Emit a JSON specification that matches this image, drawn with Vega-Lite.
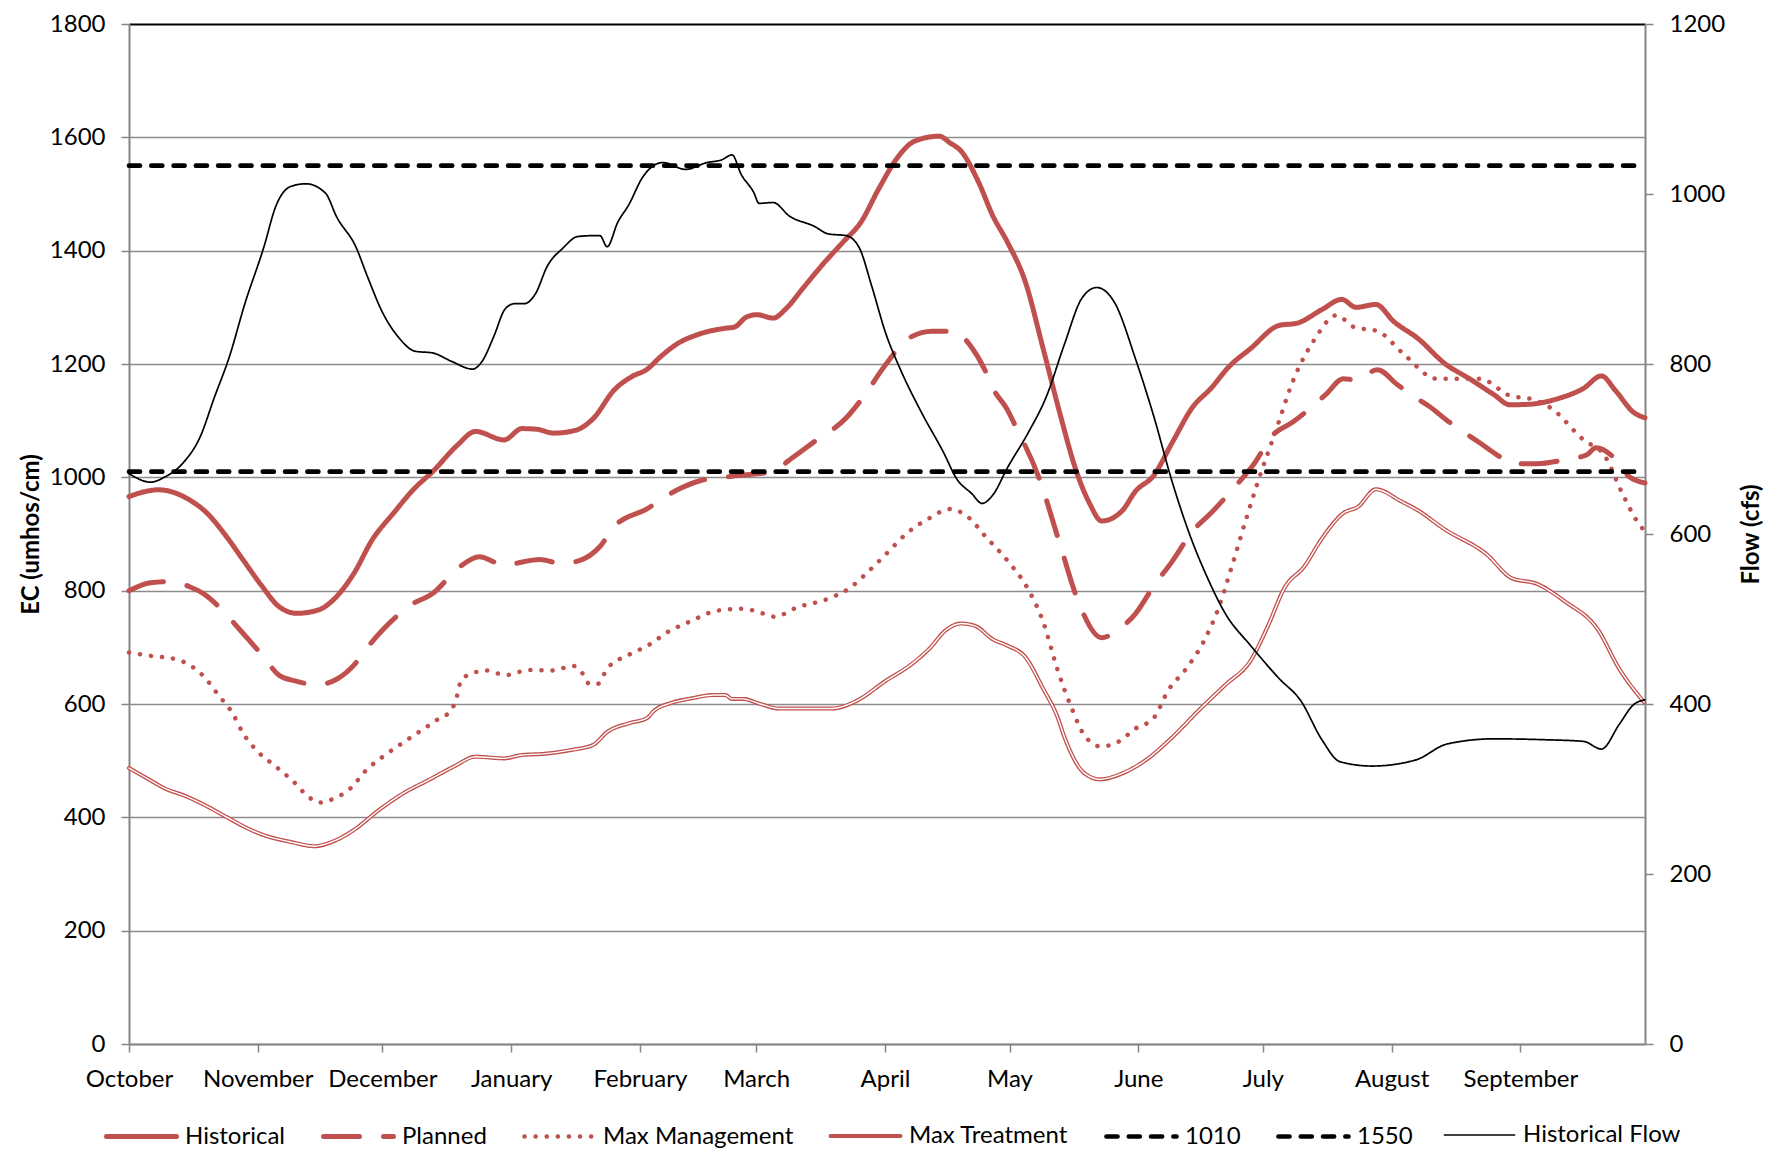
{
  "$schema": "https://vega.github.io/schema/vega-lite/v6.json",
  "width": 1516,
  "height": 1020,
  "autosize": {"type": "none"},
  "padding": {"left": 129, "top": 24, "right": 131, "bottom": 116},
  "background": "white",
  "config": {
    "view": {"stroke": null},
    "font": "Lato",
    "axis": {
      "labelFont": "Lato", "labelFontSize": 24, "labelColor": "#000000",
      "titleFont": "Lato", "titleFontSize": 24, "titleFontWeight": "bold", "titleColor": "#000000",
      "domainColor": "#868686", "domainWidth": 2,
      "tickColor": "#868686", "tickWidth": 1.5, "tickSize": 8
    },
    "legend": {
      "labelFont": "Lato", "labelFontSize": 24, "labelColor": "#000000", "labelLimit": 400
    }
  },
  "datasets": {
    "ec": [
      {"series":"Max Treatment","day":0,"value":487},{"series":"Max Treatment","day":4.3,"value":469},{"series":"Max Treatment","day":8.6,"value":451},{"series":"Max Treatment","day":13.8,"value":437},{"series":"Max Treatment","day":18.9,"value":419},{"series":"Max Treatment","day":24.1,"value":398},{"series":"Max Treatment","day":28.4,"value":381},{"series":"Max Treatment","day":33.5,"value":366},{"series":"Max Treatment","day":38.7,"value":357},{"series":"Max Treatment","day":44.7,"value":349},{"series":"Max Treatment","day":49,"value":357},{"series":"Max Treatment","day":54.2,"value":378},{"series":"Max Treatment","day":60.2,"value":413},{"series":"Max Treatment","day":66.2,"value":443},{"series":"Max Treatment","day":72.2,"value":466},{"series":"Max Treatment","day":78.3,"value":490},{"series":"Max Treatment","day":83.4,"value":507},{"series":"Max Treatment","day":90.3,"value":504},{"series":"Max Treatment","day":94.6,"value":510},{"series":"Max Treatment","day":99.8,"value":512},{"series":"Max Treatment","day":106.6,"value":519},{"series":"Max Treatment","day":111.8,"value":528},{"series":"Max Treatment","day":115.2,"value":551},{"series":"Max Treatment","day":120.4,"value":566},{"series":"Max Treatment","day":124.7,"value":575},{"series":"Max Treatment","day":126.4,"value":588},{"series":"Max Treatment","day":130.6,"value":602},{"series":"Max Treatment","day":135.5,"value":610},{"series":"Max Treatment","day":140.9,"value":616},{"series":"Max Treatment","day":143.5,"value":616},{"series":"Max Treatment","day":145.2,"value":609},{"series":"Max Treatment","day":147.8,"value":609},{"series":"Max Treatment","day":152,"value":600},{"series":"Max Treatment","day":156.4,"value":592},{"series":"Max Treatment","day":169.3,"value":592},{"series":"Max Treatment","day":175.3,"value":606},{"series":"Max Treatment","day":182.2,"value":641},{"series":"Max Treatment","day":188.2,"value":669},{"series":"Max Treatment","day":192.5,"value":696},{"series":"Max Treatment","day":196.8,"value":731},{"series":"Max Treatment","day":200.3,"value":742},{"series":"Max Treatment","day":203.7,"value":738},{"series":"Max Treatment","day":208,"value":714},{"series":"Max Treatment","day":211.5,"value":703},{"series":"Max Treatment","day":215.8,"value":683},{"series":"Max Treatment","day":220.1,"value":627},{"series":"Max Treatment","day":223.5,"value":578},{"series":"Max Treatment","day":225.3,"value":540},{"series":"Max Treatment","day":230,"value":478},{"series":"Max Treatment","day":233.8,"value":467},{"series":"Max Treatment","day":239,"value":477},{"series":"Max Treatment","day":245,"value":502},{"series":"Max Treatment","day":251,"value":540},{"series":"Max Treatment","day":258,"value":592},{"series":"Max Treatment","day":264,"value":634},{"series":"Max Treatment","day":270,"value":676},{"series":"Max Treatment","day":274.3,"value":739},{"series":"Max Treatment","day":278.2,"value":805},{"series":"Max Treatment","day":283,"value":843},{"series":"Max Treatment","day":287.2,"value":892},{"series":"Max Treatment","day":292.4,"value":937},{"series":"Max Treatment","day":295.9,"value":948},{"series":"Max Treatment","day":300.2,"value":979},{"series":"Max Treatment","day":306.2,"value":958},{"series":"Max Treatment","day":310.5,"value":941},{"series":"Max Treatment","day":316.6,"value":909},{"series":"Max Treatment","day":326.9,"value":864},{"series":"Max Treatment","day":332.9,"value":822},{"series":"Max Treatment","day":339,"value":812},{"series":"Max Treatment","day":345.9,"value":780},{"series":"Max Treatment","day":353.6,"value":732},{"series":"Max Treatment","day":358.8,"value":662},{"series":"Max Treatment","day":364.8,"value":603},
      {"series":"Max Management","day":0,"value":691},{"series":"Max Management","day":5.2,"value":685},{"series":"Max Management","day":11.2,"value":679},{"series":"Max Management","day":13.8,"value":672},{"series":"Max Management","day":18.1,"value":648},{"series":"Max Management","day":21.5,"value":616},{"series":"Max Management","day":24.9,"value":584},{"series":"Max Management","day":27.5,"value":548},{"series":"Max Management","day":31,"value":516},{"series":"Max Management","day":35.3,"value":490},{"series":"Max Management","day":39.6,"value":463},{"series":"Max Management","day":43.4,"value":435},{"series":"Max Management","day":46,"value":426},{"series":"Max Management","day":48.6,"value":431},{"series":"Max Management","day":53.3,"value":451},{"series":"Max Management","day":57.2,"value":484},{"series":"Max Management","day":61.1,"value":507},{"series":"Max Management","day":65.8,"value":531},{"series":"Max Management","day":70.5,"value":554},{"series":"Max Management","day":74.8,"value":575},{"series":"Max Management","day":77.4,"value":587},{"series":"Max Management","day":78.7,"value":607},{"series":"Max Management","day":80,"value":642},{"series":"Max Management","day":82.6,"value":654},{"series":"Max Management","day":86,"value":659},{"series":"Max Management","day":90.7,"value":651},{"series":"Max Management","day":96.3,"value":660},{"series":"Max Management","day":101.5,"value":659},{"series":"Max Management","day":107.1,"value":667},{"series":"Max Management","day":109.2,"value":654},{"series":"Max Management","day":110.9,"value":635},{"series":"Max Management","day":112.7,"value":635},{"series":"Max Management","day":115.2,"value":663},{"series":"Max Management","day":120.4,"value":687},{"series":"Max Management","day":125.1,"value":704},{"series":"Max Management","day":129.9,"value":728},{"series":"Max Management","day":134.9,"value":745},{"series":"Max Management","day":141.8,"value":765},{"series":"Max Management","day":147.8,"value":768},{"series":"Max Management","day":153,"value":759},{"series":"Max Management","day":155.5,"value":754},{"series":"Max Management","day":160.7,"value":770},{"series":"Max Management","day":168.4,"value":786},{"series":"Max Management","day":173.6,"value":805},{"series":"Max Management","day":177.9,"value":833},{"series":"Max Management","day":182.2,"value":864},{"series":"Max Management","day":187.4,"value":902},{"series":"Max Management","day":192.5,"value":927},{"series":"Max Management","day":197.7,"value":944},{"series":"Max Management","day":202,"value":930},{"series":"Max Management","day":206.3,"value":895},{"series":"Max Management","day":211.5,"value":853},{"series":"Max Management","day":216.6,"value":801},{"series":"Max Management","day":220.1,"value":745},{"series":"Max Management","day":223.5,"value":662},{"series":"Max Management","day":227,"value":592},{"series":"Max Management","day":230,"value":545},{"series":"Max Management","day":234,"value":525},{"series":"Max Management","day":238.1,"value":533},{"series":"Max Management","day":242.4,"value":557},{"series":"Max Management","day":246.7,"value":575},{"series":"Max Management","day":250.2,"value":624},{"series":"Max Management","day":254.5,"value":662},{"series":"Max Management","day":258.8,"value":711},{"series":"Max Management","day":262.2,"value":767},{"series":"Max Management","day":265.7,"value":847},{"series":"Max Management","day":268.7,"value":920},{"series":"Max Management","day":271.7,"value":990},{"series":"Max Management","day":276,"value":1080},{"series":"Max Management","day":280.3,"value":1171},{"series":"Max Management","day":285.5,"value":1244},{"series":"Max Management","day":290.7,"value":1286},{"series":"Max Management","day":295,"value":1265},{"series":"Max Management","day":300.6,"value":1258},{"series":"Max Management","day":307.1,"value":1216},{"series":"Max Management","day":314.8,"value":1174},{"series":"Max Management","day":325.2,"value":1174},{"series":"Max Management","day":332.9,"value":1143},{"series":"Max Management","day":337.2,"value":1139},{"series":"Max Management","day":342.4,"value":1122},{"series":"Max Management","day":350.2,"value":1066},{"series":"Max Management","day":355.3,"value":1038},{"series":"Max Management","day":359.7,"value":969},{"series":"Max Management","day":364,"value":913},{"series":"Max Management","day":365,"value":905},
      {"series":"Planned","day":0,"value":800},{"series":"Planned","day":5.2,"value":814},{"series":"Planned","day":9.5,"value":816},{"series":"Planned","day":14.6,"value":807},{"series":"Planned","day":18.1,"value":794},{"series":"Planned","day":22.4,"value":766},{"series":"Planned","day":26.7,"value":731},{"series":"Planned","day":32.3,"value":684},{"series":"Planned","day":36.1,"value":651},{"series":"Planned","day":40.4,"value":640},{"series":"Planned","day":45.2,"value":634},{"series":"Planned","day":50.3,"value":645},{"series":"Planned","day":54.2,"value":669},{"series":"Planned","day":57.2,"value":698},{"series":"Planned","day":61.1,"value":731},{"series":"Planned","day":67.9,"value":775},{"series":"Planned","day":73.1,"value":795},{"series":"Planned","day":79.6,"value":842},{"series":"Planned","day":84.3,"value":860},{"series":"Planned","day":90.7,"value":844},{"series":"Planned","day":93.7,"value":849},{"series":"Planned","day":98.9,"value":855},{"series":"Planned","day":104.1,"value":848},{"series":"Planned","day":108.4,"value":853},{"series":"Planned","day":113.4,"value":878},{"series":"Planned","day":116.8,"value":913},{"series":"Planned","day":124.6,"value":944},{"series":"Planned","day":132.3,"value":979},{"series":"Planned","day":137.5,"value":994},{"series":"Planned","day":145.2,"value":1002},{"series":"Planned","day":154.7,"value":1010},{"series":"Planned","day":159.8,"value":1035},{"series":"Planned","day":165,"value":1063},{"series":"Planned","day":172.7,"value":1105},{"series":"Planned","day":176.2,"value":1136},{"series":"Planned","day":182.2,"value":1199},{"series":"Planned","day":187.4,"value":1244},{"series":"Planned","day":193.4,"value":1258},{"series":"Planned","day":198.5,"value":1258},{"series":"Planned","day":202.8,"value":1230},{"series":"Planned","day":205.9,"value":1192},{"series":"Planned","day":208,"value":1157},{"series":"Planned","day":211.5,"value":1119},{"series":"Planned","day":213.2,"value":1094},{"series":"Planned","day":219.2,"value":997},{"series":"Planned","day":224.3,"value":878},{"series":"Planned","day":228.6,"value":780},{"series":"Planned","day":234.2,"value":717},{"series":"Planned","day":238.1,"value":731},{"series":"Planned","day":242.4,"value":760},{"series":"Planned","day":246.7,"value":808},{"series":"Planned","day":251,"value":850},{"series":"Planned","day":256.2,"value":906},{"series":"Planned","day":260.5,"value":937},{"series":"Planned","day":266.6,"value":986},{"series":"Planned","day":270.9,"value":1024},{"series":"Planned","day":275.2,"value":1073},{"series":"Planned","day":280.3,"value":1098},{"series":"Planned","day":288.1,"value":1146},{"series":"Planned","day":292.4,"value":1174},{"series":"Planned","day":295.4,"value":1172},{"series":"Planned","day":300.6,"value":1190},{"series":"Planned","day":305.3,"value":1164},{"series":"Planned","day":309.7,"value":1141},{"series":"Planned","day":313.1,"value":1125},{"series":"Planned","day":317.4,"value":1100},{"series":"Planned","day":325.2,"value":1061},{"series":"Planned","day":329.9,"value":1037},{"series":"Planned","day":332.9,"value":1024},{"series":"Planned","day":339,"value":1024},{"series":"Planned","day":345,"value":1030},{"series":"Planned","day":351,"value":1040},{"series":"Planned","day":353.2,"value":1052},{"series":"Planned","day":357.5,"value":1035},{"series":"Planned","day":361.4,"value":1000},{"series":"Planned","day":365,"value":990},
      {"series":"Historical","day":0,"value":966},{"series":"Historical","day":4,"value":975},{"series":"Historical","day":7,"value":978},{"series":"Historical","day":10,"value":975},{"series":"Historical","day":14.6,"value":960},{"series":"Historical","day":18.9,"value":936},{"series":"Historical","day":23.2,"value":898},{"series":"Historical","day":27.5,"value":854},{"series":"Historical","day":31.8,"value":810},{"series":"Historical","day":36.1,"value":772},{"series":"Historical","day":40.4,"value":760},{"series":"Historical","day":45.6,"value":766},{"series":"Historical","day":49.9,"value":789},{"series":"Historical","day":54.2,"value":831},{"series":"Historical","day":58.5,"value":889},{"series":"Historical","day":63.6,"value":936},{"series":"Historical","day":68.8,"value":981},{"series":"Historical","day":73.1,"value":1010},{"series":"Historical","day":79.1,"value":1057},{"series":"Historical","day":83.4,"value":1081},{"series":"Historical","day":90.3,"value":1066},{"series":"Historical","day":94.6,"value":1086},{"series":"Historical","day":98,"value":1085},{"series":"Historical","day":102.3,"value":1078},{"series":"Historical","day":107.5,"value":1083},{"series":"Historical","day":111.8,"value":1104},{"series":"Historical","day":116.8,"value":1154},{"series":"Historical","day":121.1,"value":1178},{"series":"Historical","day":124.6,"value":1190},{"series":"Historical","day":128,"value":1213},{"series":"Historical","day":132.3,"value":1237},{"series":"Historical","day":136.6,"value":1251},{"series":"Historical","day":143.5,"value":1263},{"series":"Historical","day":145.7,"value":1265},{"series":"Historical","day":148.7,"value":1283},{"series":"Historical","day":151.2,"value":1287},{"series":"Historical","day":155.1,"value":1281},{"series":"Historical","day":158.1,"value":1297},{"series":"Historical","day":162.4,"value":1335},{"series":"Historical","day":166.7,"value":1373},{"series":"Historical","day":171.9,"value":1415},{"series":"Historical","day":176.2,"value":1450},{"series":"Historical","day":180.5,"value":1509},{"series":"Historical","day":184.8,"value":1562},{"series":"Historical","day":189.1,"value":1593},{"series":"Historical","day":195.1,"value":1602},{"series":"Historical","day":197.7,"value":1590},{"series":"Historical","day":200.3,"value":1576},{"series":"Historical","day":204.6,"value":1520},{"series":"Historical","day":208,"value":1461},{"series":"Historical","day":211.5,"value":1415},{"series":"Historical","day":215.8,"value":1345},{"series":"Historical","day":220.1,"value":1227},{"series":"Historical","day":224.3,"value":1108},{"series":"Historical","day":227.8,"value":1017},{"series":"Historical","day":231.2,"value":955},{"series":"Historical","day":234.2,"value":923},{"series":"Historical","day":239,"value":940},{"series":"Historical","day":242.4,"value":976},{"series":"Historical","day":246.7,"value":1003},{"series":"Historical","day":251,"value":1059},{"series":"Historical","day":256.2,"value":1125},{"series":"Historical","day":260.5,"value":1157},{"series":"Historical","day":264.8,"value":1195},{"series":"Historical","day":270,"value":1227},{"series":"Historical","day":276.9,"value":1268},{"series":"Historical","day":281.2,"value":1272},{"series":"Historical","day":287.2,"value":1296},{"series":"Historical","day":292,"value":1314},{"series":"Historical","day":295.4,"value":1300},{"series":"Historical","day":300.2,"value":1305},{"series":"Historical","day":304.5,"value":1275},{"series":"Historical","day":310.5,"value":1244},{"series":"Historical","day":316.6,"value":1202},{"series":"Historical","day":323.4,"value":1171},{"series":"Historical","day":328.6,"value":1146},{"series":"Historical","day":332.5,"value":1128},{"series":"Historical","day":337.2,"value":1129},{"series":"Historical","day":344.1,"value":1139},{"series":"Historical","day":350.2,"value":1157},{"series":"Historical","day":354.5,"value":1179},{"series":"Historical","day":357.9,"value":1153},{"series":"Historical","day":362.2,"value":1115},{"series":"Historical","day":365,"value":1105},
      {"series":"1010","day":0,"value":1010},{"series":"1010","day":365,"value":1010},
      {"series":"1550","day":0,"value":1550},{"series":"1550","day":365,"value":1550}
    ],
    "flow": [
      {"series":"Historical Flow","day":0,"flow":671},{"series":"Historical Flow","day":5.2,"flow":661},{"series":"Historical Flow","day":8.6,"flow":667},{"series":"Historical Flow","day":12.9,"flow":683},{"series":"Historical Flow","day":17.2,"flow":715},{"series":"Historical Flow","day":20.5,"flow":760},{"series":"Historical Flow","day":24.2,"flow":809},{"series":"Historical Flow","day":27.9,"flow":871},{"series":"Historical Flow","day":32.5,"flow":938},{"series":"Historical Flow","day":35.3,"flow":985},{"series":"Historical Flow","day":39,"flow":1009},{"series":"Historical Flow","day":42.6,"flow":1012},{"series":"Historical Flow","day":47.3,"flow":1001},{"series":"Historical Flow","day":50,"flow":973},{"series":"Historical Flow","day":54.6,"flow":938},{"series":"Historical Flow","day":57.4,"flow":903},{"series":"Historical Flow","day":61.1,"flow":860},{"series":"Historical Flow","day":64.8,"flow":832},{"series":"Historical Flow","day":68.9,"flow":815},{"series":"Historical Flow","day":73.1,"flow":813},{"series":"Historical Flow","day":77.7,"flow":803},{"series":"Historical Flow","day":82.7,"flow":794},{"series":"Historical Flow","day":85,"flow":803},{"series":"Historical Flow","day":87.8,"flow":832},{"series":"Historical Flow","day":90.6,"flow":865},{"series":"Historical Flow","day":92.9,"flow":871},{"series":"Historical Flow","day":95.2,"flow":871},{"series":"Historical Flow","day":97.9,"flow":883},{"series":"Historical Flow","day":100.7,"flow":915},{"series":"Historical Flow","day":104.4,"flow":936},{"series":"Historical Flow","day":108.1,"flow":950},{"series":"Historical Flow","day":111.8,"flow":951},{"series":"Historical Flow","day":113.4,"flow":951},{"series":"Historical Flow","day":115.1,"flow":938},{"series":"Historical Flow","day":117.7,"flow":967},{"series":"Historical Flow","day":120.3,"flow":987},{"series":"Historical Flow","day":123.7,"flow":1020},{"series":"Historical Flow","day":128.5,"flow":1037},{"series":"Historical Flow","day":134,"flow":1029},{"series":"Historical Flow","day":139.2,"flow":1037},{"series":"Historical Flow","day":142.6,"flow":1040},{"series":"Historical Flow","day":145.2,"flow":1046},{"series":"Historical Flow","day":147.4,"flow":1023},{"series":"Historical Flow","day":150.4,"flow":1002},{"series":"Historical Flow","day":151.7,"flow":989},{"series":"Historical Flow","day":155.1,"flow":990},{"series":"Historical Flow","day":159,"flow":974},{"series":"Historical Flow","day":165,"flow":962},{"series":"Historical Flow","day":168.4,"flow":953},{"series":"Historical Flow","day":172.7,"flow":951},{"series":"Historical Flow","day":175.8,"flow":937},{"series":"Historical Flow","day":178.8,"flow":892},{"series":"Historical Flow","day":182.2,"flow":836},{"series":"Historical Flow","day":185.6,"flow":795},{"series":"Historical Flow","day":190.8,"flow":743},{"series":"Historical Flow","day":196,"flow":697},{"series":"Historical Flow","day":199.4,"flow":664},{"series":"Historical Flow","day":202.8,"flow":648},{"series":"Historical Flow","day":205.4,"flow":636},{"series":"Historical Flow","day":208,"flow":646},{"series":"Historical Flow","day":211.5,"flow":678},{"series":"Historical Flow","day":216.6,"flow":720},{"series":"Historical Flow","day":220.9,"flow":762},{"series":"Historical Flow","day":225.2,"flow":823},{"series":"Historical Flow","day":229.5,"flow":878},{"series":"Historical Flow","day":233,"flow":890},{"series":"Historical Flow","day":237.2,"flow":873},{"series":"Historical Flow","day":242.4,"flow":805},{"series":"Historical Flow","day":246.7,"flow":739},{"series":"Historical Flow","day":251,"flow":664},{"series":"Historical Flow","day":255.4,"flow":599},{"series":"Historical Flow","day":259.7,"flow":548},{"series":"Historical Flow","day":264,"flow":506},{"series":"Historical Flow","day":270,"flow":469},{"series":"Historical Flow","day":276.9,"flow":430},{"series":"Historical Flow","day":282.1,"flow":404},{"series":"Historical Flow","day":287.2,"flow":358},{"series":"Historical Flow","day":291.6,"flow":332},{"series":"Historical Flow","day":299.3,"flow":327},{"series":"Historical Flow","day":309.7,"flow":334},{"series":"Historical Flow","day":317.4,"flow":353},{"series":"Historical Flow","day":328.6,"flow":359},{"series":"Historical Flow","day":340.7,"flow":358},{"series":"Historical Flow","day":350.2,"flow":356},{"series":"Historical Flow","day":354.5,"flow":347},{"series":"Historical Flow","day":358.8,"flow":376},{"series":"Historical Flow","day":362.2,"flow":399},{"series":"Historical Flow","day":365,"flow":405}
    ]
  },
  "layer": [
    {
      "data": {"name": "ec"},
      "mark": {"type": "line", "strokeCap": "round", "strokeJoin": "round", "interpolate": "monotone"},
      "encoding": {
        "x": {
          "field": "day", "type": "quantitative",
          "scale": {"domain": [0, 365], "nice": false, "zero": false},
          "axis": {
            "title": null, "grid": false,
            "values": [0, 31, 61, 92, 123, 151, 182, 212, 243, 273, 304, 335],
            "labelExpr": "['October','November','December','January','February','March','April','May','June','July','August','September'][indexof([0,31,61,92,123,151,182,212,243,273,304,335], datum.value)]",
            "labelAlign": "center", "labelPadding": 15, "labelFlush": false, "labelOverlap": false
          }
        },
        "y": {
          "field": "value", "type": "quantitative",
          "scale": {"domain": [0, 1800], "nice": false},
          "axis": {
            "title": "EC (umhos/cm)", "orient": "left", "format": "d",
            "values": [0, 200, 400, 600, 800, 1000, 1200, 1400, 1600, 1800],
            "grid": true,
            "gridColor": {"condition": {"test": "datum.value === 1800", "value": "#000000"}, "value": "#8c8c8c"},
            "gridWidth": {"condition": {"test": "datum.value === 1800", "value": 2}, "value": 1.5},
            "labelPadding": 16, "titlePadding": 6
          }
        },
        "color": {
          "field": "series", "type": "nominal",
          "scale": {
            "domain": ["Historical", "Planned", "Max Management", "Max Treatment", "1010", "1550", "Historical Flow"],
            "range": ["#C0504D", "#C0504D", "#C0504D", "#C0504D", "#000000", "#000000", "#000000"]
          },
          "legend": {
            "title": null, "orient": "none", "direction": "horizontal", "columns": 7,
            "legendX": -25, "legendY": 1075, "padding": 0,
            "symbolType": "stroke", "symbolSize": 4900, "labelOffset": 6, "columnPadding": 28,
            "gridAlign": "none",
            "encode": {"symbols": {"update": {"strokeCap": {"value": "round"}}}}
          }
        },
        "strokeDash": {
          "field": "series", "type": "nominal",
          "scale": {
            "domain": ["Historical", "Planned", "Max Management", "Max Treatment", "1010", "1550", "Historical Flow"],
            "range": [[1, 0], [36, 24], [0.1, 11], [1, 0], [11, 11.3], [11, 11.3], [1, 0]]
          }
        },
        "strokeWidth": {
          "field": "series", "type": "nominal",
          "scale": {
            "type": "ordinal",
            "domain": ["Historical", "Planned", "Max Management", "Max Treatment", "1010", "1550", "Historical Flow"],
            "range": [5, 5, 4.5, 4, 4.7, 4.7, 1.7]
          }
        }
      }
    },
    {
      "data": {"name": "ec"},
      "transform": [{"filter": "datum.series === 'Max Treatment'"}],
      "mark": {"type": "line", "stroke": "#ffffff", "strokeWidth": 1.4, "interpolate": "monotone", "strokeCap": "round"},
      "encoding": {
        "x": {"field": "day", "type": "quantitative", "scale": {"domain": [0, 365], "nice": false, "zero": false}},
        "y": {"field": "value", "type": "quantitative", "scale": {"domain": [0, 1800], "nice": false}, "axis": null}
      }
    },
    {
      "data": {"name": "flow"},
      "mark": {"type": "line", "strokeCap": "round", "strokeJoin": "round", "interpolate": "monotone"},
      "encoding": {
        "x": {"field": "day", "type": "quantitative", "scale": {"domain": [0, 365], "nice": false, "zero": false}},
        "y": {
          "field": "flow", "type": "quantitative",
          "scale": {"domain": [0, 1200], "nice": false},
          "axis": {
            "title": "Flow (cfs)", "orient": "right", "grid": false, "format": "d",
            "values": [0, 200, 400, 600, 800, 1000, 1200],
            "labelPadding": 16, "titleAngle": 270, "titlePadding": 39
          }
        },
        "color": {"field": "series", "type": "nominal"},
        "strokeDash": {"field": "series", "type": "nominal"},
        "strokeWidth": {"field": "series", "type": "nominal", "scale": {"type": "ordinal"}}
      }
    }
  ],
  "resolve": {"scale": {"y": "independent"}}
}
